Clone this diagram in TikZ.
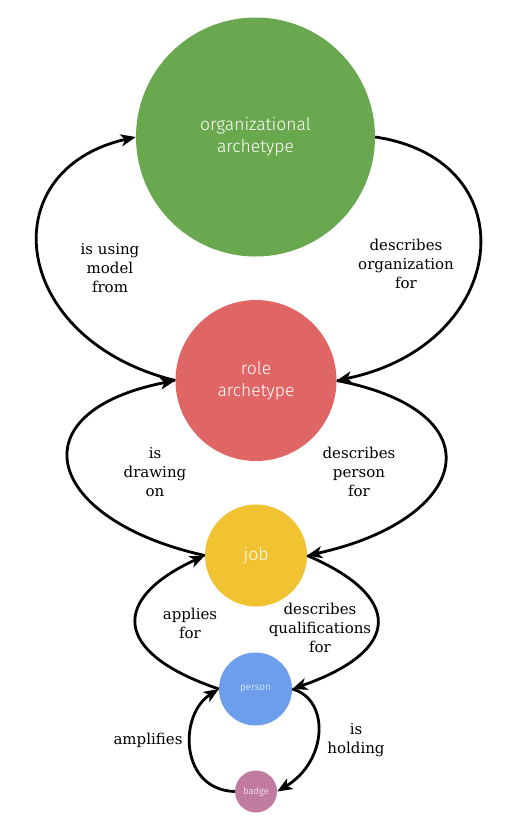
\documentclass[tikz,border=0pt]{standalone}
\usepackage{fontspec}
\usetikzlibrary{arrows.meta}
\newfontfamily\labfont{DejaVu Serif}
\newfontfamily\circfont{Fira Sans Light}
\definecolor{cgreen}{HTML}{6AA84F}
\definecolor{cred}{HTML}{E06666}
\definecolor{cyellow}{HTML}{F1C232}
\definecolor{cblue}{HTML}{6D9EEB}
\definecolor{cpurple}{HTML}{C27BA0}
\begin{document}
\begin{tikzpicture}[x=1pt,y=1pt,
  circ/.style={circle,draw=none,inner sep=0pt,text=white,align=center,font=\circfont},
  bigtext/.style={font=\circfont\fontsize{17.5}{22}\selectfont},
  conn/.style={line width=2.8pt,-{Stealth[length=15pt,width=12pt,inset=4pt]}},
  lab/.style={align=center,font=\labfont\fontsize{15}{19}\selectfont}]
\useasboundingbox (0,0) rectangle (511,-819);
\node[circ,fill=cgreen,minimum size=239pt,bigtext] (org) at (255.5,-137) {organizational\\archetype};
\node[circ,fill=cred,minimum size=161pt,bigtext] (role) at (256,-380.5) {role\\archetype};
\node[circ,fill=cyellow,minimum size=102pt,bigtext] (job) at (256,-555.5) {job};
\node[circ,fill=cblue,minimum size=73pt,font=\circfont\fontsize{10}{12}\selectfont] (person) at (255.5,-689) {person};
\node[circ,fill=cpurple,minimum size=42pt,font=\circfont\fontsize{9.5}{11}\selectfont] (badge) at (256,-791.5) {badge};

\draw[conn] (role.west) .. controls (10,-340) and (-10,-170) .. (org.west);
\draw[conn] (org.east) .. controls (530,-160) and (510,-345) .. (role.east);
\draw[conn] (job.west) .. controls (45,-520) and (14,-412) .. (role.west);
\draw[conn] (role.east) .. controls (500,-412) and (470,-520) .. (job.east);
\draw[conn] (person.west) .. controls (110,-652) and (112,-598) .. (job.west);
\draw[conn] (job.east) .. controls (402,-596) and (404,-650) .. (person.east);
\draw[conn] (badge.west) .. controls (180,-790) and (178,-715) .. (person.west);
\draw[conn] (person.east) .. controls (330,-699) and (328,-761) .. (badge.east);

\node[lab] (l1) at (110,-268) {is using\\model\\from};
\node[lab] (l2) at (406,-264) {describes\\organization\\for};
\node[lab] (l3) at (155,-472) {is\\drawing\\on};
\node[lab] (l4) at (359,-472) {describes\\person\\for};
\node[lab] (l5) at (190,-623) {applies\\for};
\node[lab] (l6) at (320,-628) {describes\\qualifications\\for};
\node[lab] (l7) at (148,-740) {amplifies};
\node[lab] (l8) at (356,-740) {is\\holding};
\end{tikzpicture}
\end{document}
